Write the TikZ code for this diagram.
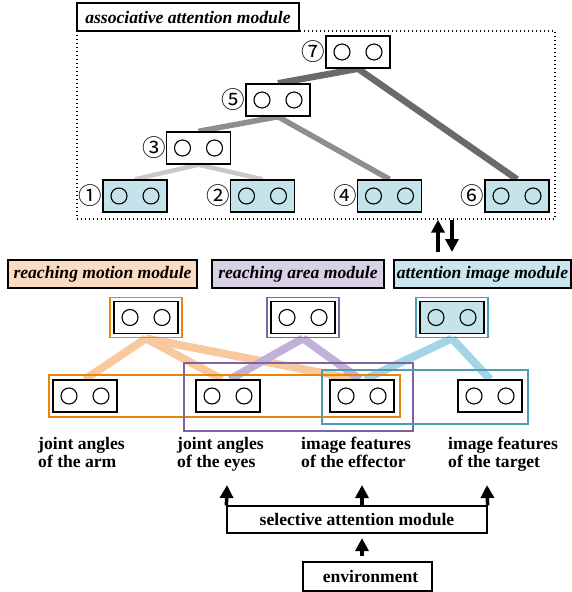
\documentclass[tikz,border=0pt]{standalone}
\usepackage{fontspec}
\setmainfont{Liberation Serif}
\newfontfamily\circnum{Noto Sans CJK JP}
\usetikzlibrary{arrows.meta,backgrounds}

\definecolor{leafblue}{HTML}{C5E3EA}
\definecolor{peach}{HTML}{FBDCC0}
\definecolor{lilac}{HTML}{D8D0E3}
\definecolor{skyfill}{HTML}{C9E6EE}
\definecolor{orangeC}{HTML}{E8850E}
\definecolor{purpleC}{HTML}{7D63A1}
\definecolor{tealC}{HTML}{4B9CB4}
\definecolor{orangeL}{HTML}{F8C99E}
\definecolor{purpleL}{HTML}{C1B1D6}
\definecolor{tealL}{HTML}{A4D5E4}
\definecolor{grayL}{HTML}{C9C9C9}
\definecolor{grayM}{HTML}{8E8E8E}
\definecolor{grayD}{HTML}{6A6A6A}

\newcommand\txtfont{\fontsize{17.6}{18}\selectfont\bfseries}

\begin{document}
\begin{tikzpicture}[x=1pt,y=-1pt,
  cell/.style={draw=black, line width=1.4pt, fill=white,
    minimum width=64pt, minimum height=32pt, inner sep=0pt,
    path picture={\draw[line width=1.1pt]
      ([xshift=-16pt]path picture bounding box.center) circle (8pt)
      ([xshift=16pt]path picture bounding box.center) circle (8pt);}},
  leaf/.style={cell, fill=leafblue},
  num/.style={font=\circnum\fontsize{23.5}{23.5}\selectfont, inner sep=0pt},
  frame/.style={line width=1.8pt, minimum width=72pt, minimum height=40pt, inner sep=0pt},
  grp/.style={line width=1.8pt, inner sep=0pt},
  modlbl/.style={draw=black, line width=1.3pt, minimum height=28pt, inner sep=0pt,
    font=\txtfont\itshape},
  plain/.style={font=\txtfont, align=left, inner sep=0pt, anchor=base west},
  treeL/.style={grayL, line width=4.5pt},
  treeM/.style={grayM, line width=5.5pt},
  treeD/.style={grayD, line width=6.5pt},
  link/.style={line width=8pt},
  arr/.style={line width=3.5pt, -{Triangle[width=13pt,length=13pt]}},
]
\useasboundingbox (0,0) rectangle (572,592);

% ---------- associative attention module ----------
\node[draw, dash pattern=on 1.2pt off 2.8pt, line width=1.3pt,
  minimum width=478pt, minimum height=188pt, inner sep=0pt] (assoc) at (316,125) {};
\node[draw, line width=2pt, fill=white, minimum width=222pt, minimum height=28pt,
  inner sep=0pt, font=\txtfont\itshape] (assocT) at (188,17) {associative attention module};

\node[cell, label={[num]left:⑦}] (n7) at (358,52) {};
\node[cell, label={[num]left:⑤}] (n5) at (278,100) {};
\node[cell, label={[num]left:③}] (n3) at (198.5,148) {};
\node[leaf, label={[num]left:①}] (n1) at (135,196) {};
\node[leaf, label={[num]left:②}] (n2) at (262.5,196) {};
\node[leaf, label={[num]left:④}] (n4) at (389.5,196) {};
\node[leaf, label={[num]left:⑥}] (n6) at (517,196) {};

\begin{pgfonlayer}{background}
  \draw[treeL] (n3.south) -- (n1.north);
  \draw[treeL] (n3.south) -- (n2.north);
  \draw[treeM] (n5.south) -- (n3.north);
  \draw[treeM] (n5.south) -- (n4.north);
  \draw[treeD] (n7.south) -- (n5.north);
  \draw[treeD] (n7.south) -- (n6.north);
\end{pgfonlayer}

% exchange between the two levels
\coordinate (upFoot) at (438,252);
\coordinate (downTip) at (452,252);
\draw[arr] (upFoot) -- (upFoot |- assoc.south);
\draw[arr] (assoc.south -| downTip) -- (downTip);

% ---------- module labels ----------
\node[modlbl, fill=peach, minimum width=189pt] (lblMotion) at (102.5,274) {reaching motion module};
\node[modlbl, fill=lilac, minimum width=172pt] (lblArea) at (298,274) {reaching area module};
\node[modlbl, fill=skyfill, minimum width=177pt] (lblImage) at (482.5,274) {attention image module};

% ---------- module units ----------
\node[cell] (motion) at (146,317.5) {};
\node[frame, draw=orangeC] (motionF) at (motion) {};
\node[cell] (area) at (303,317.5) {};
\node[frame, draw=purpleC] (areaF) at (area) {};
\node[leaf] (image) at (452,317.5) {};
\node[frame, draw=tealC] (imageF) at (image) {};

% ---------- input units ----------
\node[cell] (arm) at (85,396) {};
\node[cell] (eyes) at (228,396) {};
\node[cell] (eff) at (362,396) {};
\node[cell] (tgt) at (490,396) {};

\node[grp, draw=orangeC, minimum width=351pt, minimum height=42pt] (motionG) at (224.5,396) {};
\node[grp, draw=purpleC, minimum width=229pt, minimum height=68pt] (areaG) at (298.5,397) {};
\node[grp, draw=tealC, minimum width=206pt, minimum height=54pt] (imageG) at (425,397) {};

\begin{pgfonlayer}{background}
  \draw[link, orangeL] (motionF.south) -- (arm.north);
  \draw[link, orangeL] (motionF.south) -- ([xshift=-6pt]eyes.north);
  \draw[link, orangeL] (motionF.south) -- ([xshift=-7pt]eff.north);
  \draw[link, purpleL] (areaF.south) -- ([xshift=2pt]eyes.north);
  \draw[link, purpleL] (areaF.south) -- ([xshift=-2pt]eff.north);
  \draw[link, tealL] (imageF.south) -- ([xshift=3pt]eff.north);
  \draw[link, tealL] (imageF.south) -- (tgt.north);
\end{pgfonlayer}

% ---------- input descriptions (base = baseline of the last line) ----------
\node[plain] (armT) at (38,467.5) {joint angles\\of the arm};
\node[plain] (eyesT) at (177,467.5) {joint angles\\of the eyes};
\node[plain] (effT) at (301,467.5) {image features\\of the effector};
\node[plain] (tgtT) at (448,467.5) {image features\\of the target};

% ---------- selective attention and environment ----------
\node[draw, line width=1.2pt, minimum width=260pt, minimum height=27pt, inner sep=0pt,
  font=\txtfont] (sel) at (357,519.5) {selective attention module};
\node[draw, line width=2.5pt, minimum width=129pt, minimum height=29pt, inner sep=0pt,
  font=\txtfont] (env) at (367.5,576.5) {\hspace*{6pt}environment};

\coordinate (tipL) at (227,485);
\coordinate (tipM) at (362,485);
\coordinate (tipR) at (487,485);
\draw[arr] (sel.north west) -- (tipL);
\draw[arr] (sel.north -| tipM) -- (tipM);
\draw[arr] (sel.north east) -- (tipR);
\draw[arr, shorten <=4.5pt, shorten >=4.5pt] (env.north -| tipM) -- (sel.south -| tipM);
\end{tikzpicture}
\end{document}
